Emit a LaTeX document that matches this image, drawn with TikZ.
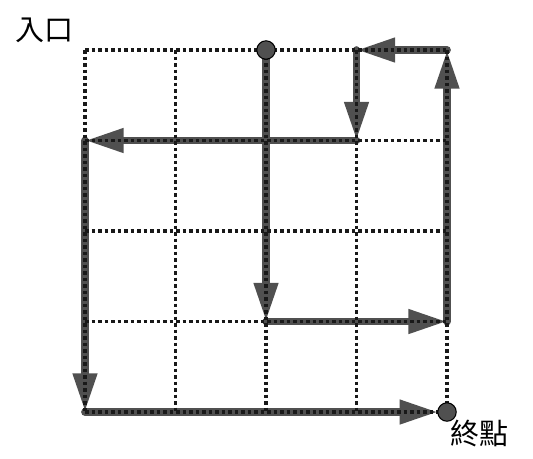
\documentclass[tikz,border=0pt]{standalone}
\usepackage{fontspec}
\newfontfamily\cjk{Noto Sans CJK TC}
\usepackage{tikz}
\usetikzlibrary{arrows.meta}
\definecolor{pathgray}{RGB}{80,80,80}

\begin{document}
\begin{tikzpicture}[x=0.02cm,y=-0.02cm]
            \tikzset{grid/.style = {black!90, line width=2pt, dash pattern=on 2pt off 1.7pt}}
            \tikzset{walk/.style = {-{Triangle[length=22pt,width=13pt]}, pathgray, line width=4.4pt, line cap=round}}
            \tikzset{spot/.style = {circle, fill=pathgray, draw=black, line width=0.6pt, inner sep=0pt, minimum size=10.5pt}}
            \tikzset{label/.style = {font=\cjk\fontsize{16.5}{16.5}\selectfont, inner sep=0pt}}

            \useasboundingbox (0,0) rectangle (533,458);

            \foreach \i in {0,...,4}
                \foreach \j in {0,...,4}
                    \coordinate (x\i y\j) at (85+90.5*\i, 50+90.5*\j);

            % path through the maze
            \draw[walk] (x2y0) -- (x2y3);
            \draw[walk] (x2y3) -- (x4y3);
            \draw[walk] (x4y3) -- (x4y0);
            \draw[walk] (x4y0) -- (x3y0);
            \draw[walk] (x3y0) -- (x3y1);
            \draw[walk] (x3y1) -- (x0y1);
            \draw[walk] (x0y1) -- (x0y4);
            \draw[walk, shorten >=5pt] (x0y4) -- (x4y4);

            % dotted grid
            \foreach \i in {0,...,4} {
                \draw[grid] (x\i y0) -- (x\i y4);
                \draw[grid] (x0y\i) -- (x4y\i);
            }

            \node[spot] (start) at (x2y0) {};
            \node[spot] (goal) at (x4y4) {};

            \node[label] (entry) at (44,30) {入口};
            \node[label] (exit) at (479,433) {終點};

\end{tikzpicture}
\end{document}
